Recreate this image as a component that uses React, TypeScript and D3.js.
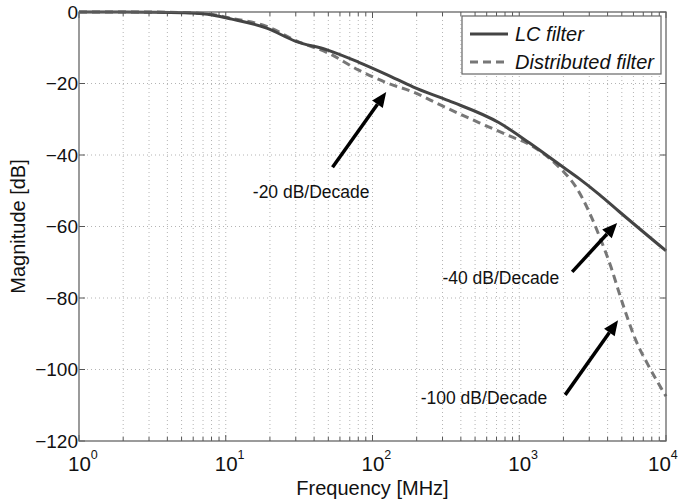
import React from 'react';
import * as d3 from 'd3';

// LC filter (solid) - frequency [MHz] / magnitude [dB]
const lcFreq = [1, 2, 3, 5, 7, 11, 19, 30, 49, 80, 125, 190, 330, 730, 1170, 1870, 2560, 3500, 4790, 10000];
const lcMag = [0, 0, -0.05, -0.2, -0.5, -2.0, -4.5, -8.2, -10.6, -14, -17.5, -21, -24.8, -31, -36.6, -42.6, -46.6, -51, -55.8, -66.8];

// Distributed filter (dashed)
const distFreq = [1, 3, 7, 11, 19, 30, 50, 80, 125, 190, 290, 535, 900, 1120, 1870, 2020, 2440, 3000, 3500, 4230, 4790, 5350, 6250, 7500, 10000];
const distMag = [0, 0, -0.4, -1.8, -4, -8, -11.5, -16.2, -19.8, -22.4, -26, -31, -35, -36.6, -43.4, -44.8, -49, -56, -62.5, -71.5, -78.5, -84.5, -92, -98.5, -107.5];

const yTicks = [0, -20, -40, -60, -80, -100, -120];
const xMajor = [1, 10, 100, 1000, 10000];
const xExponents = ['0', '1', '2', '3', '4'];

// annotation arrows in data coordinates [freq, dB]
const annotations = [
  { text: '-20 dB/Decade', tail: [53.4, -43.4], tip: [124, -22.4], label: [95.5, -50.3] },
  { text: '-40 dB/Decade', tail: [2295, -72.7], tip: [4645, -59], label: [1871, -74.4] },
  { text: '-100 dB/Decade', tail: [2056, -107.1], tip: [4713, -86.2], label: [1551, -108] },
];

const W = 679;
const H = 502;
const margin = { top: 12, right: 13, bottom: 61, left: 79 };
const FONT = '"Liberation Sans", Arial, Helvetica, sans-serif';

const App = () => {
  const x = d3.scaleLog().domain([1, 10000]).range([margin.left, W - margin.right]);
  const y = d3.scaleLinear().domain([-120, 0]).range([H - margin.bottom, margin.top]);
  const x0 = margin.left;
  const x1 = W - margin.right;
  const y0 = H - margin.bottom;
  const y1 = margin.top;

  const minorTicks: number[] = [];
  for (let d = 0; d < 4; d++) {
    for (let k = 2; k <= 9; k++) minorTicks.push(k * Math.pow(10, d));
  }

  const line = d3
    .line<[number, number]>()
    .x((d) => x(d[0]))
    .y((d) => y(d[1]))
    .curve(d3.curveMonotoneX);

  const lcPath = line(lcFreq.map((f, i) => [f, lcMag[i]]));
  const distPath = line(distFreq.map((f, i) => [f, distMag[i]]));

  const grid = { stroke: '#b4b4b4', strokeWidth: 1, strokeDasharray: '1,3' };

  return (
    <svg width={W} height={H} style={{ position: 'absolute', left: 0, top: 0, background: '#fff' }}>
      <rect x={0} y={0} width={W} height={H} fill="#fff" />

      {/* grid */}
      {[...xMajor.slice(1, -1), ...minorTicks].map((t) => (
        <line key={'gx' + t} x1={x(t)} x2={x(t)} y1={y1} y2={y0} {...grid} />
      ))}
      {yTicks.slice(1, -1).map((t) => (
        <line key={'gy' + t} x1={x0} x2={x1} y1={y(t)} y2={y(t)} {...grid} />
      ))}

      {/* ticks (inward, all four sides) */}
      {xMajor.map((t) => (
        <g key={'tx' + t} stroke="#555" strokeWidth={1}>
          <line x1={x(t)} x2={x(t)} y1={y0} y2={y0 - 6} />
          <line x1={x(t)} x2={x(t)} y1={y1} y2={y1 + 6} />
        </g>
      ))}
      {minorTicks.map((t) => (
        <g key={'tm' + t} stroke="#555" strokeWidth={1}>
          <line x1={x(t)} x2={x(t)} y1={y0} y2={y0 - 4} />
          <line x1={x(t)} x2={x(t)} y1={y1} y2={y1 + 4} />
        </g>
      ))}
      {yTicks.map((t) => (
        <g key={'ty' + t} stroke="#555" strokeWidth={1}>
          <line x1={x0} x2={x0 + 6} y1={y(t)} y2={y(t)} />
          <line x1={x1} x2={x1 - 6} y1={y(t)} y2={y(t)} />
        </g>
      ))}

      {/* curves */}
      <path d={distPath || ''} fill="none" stroke="#777" strokeWidth={3} strokeDasharray="8,5" />
      <path d={lcPath || ''} fill="none" stroke="#444" strokeWidth={3} />

      {/* frame */}
      <rect x={x0} y={y1} width={x1 - x0} height={y0 - y1} fill="none" stroke="#666" strokeWidth={1.3} />

      {/* y tick labels */}
      {yTicks.map((t) => (
        <text key={'ly' + t} x={x0 - 1} y={y(t)} dy="0.36em" textAnchor="end" fontFamily={FONT} fontSize={19} fill="#111">
          {t === 0 ? '0' : '\u2212' + Math.abs(t)}
        </text>
      ))}

      {/* x tick labels */}
      {xMajor.map((t, i) => (
        <text
          key={'lx' + t}
          x={Math.min(x(t) - 11, W - 31)}
          y={471}
          fontFamily={FONT}
          fontSize={20.5}
          fill="#111"
        >
          10
          <tspan dy={-12} fontSize={12.5}>{xExponents[i]}</tspan>
        </text>
      ))}

      {/* axis titles */}
      <text x={(x0 + x1) / 2} y={495} textAnchor="middle" fontFamily={FONT} fontSize={20} fill="#111">
        Frequency [MHz]
      </text>
      <text
        transform={`translate(25,${(y0 + y1) / 2}) rotate(-90)`}
        textAnchor="middle"
        fontFamily={FONT}
        fontSize={20}
        fill="#111"
      >
        Magnitude [dB]
      </text>

      {/* annotations */}
      {annotations.map((a) => {
        const tx = x(a.tail[0]);
        const ty = y(a.tail[1]);
        const hx = x(a.tip[0]);
        const hy = y(a.tip[1]);
        const ang = Math.atan2(hy - ty, hx - tx);
        const len = 15;
        const hw = 6.5;
        const bx = hx - len * Math.cos(ang);
        const by = hy - len * Math.sin(ang);
        const px = -Math.sin(ang) * hw;
        const py = Math.cos(ang) * hw;
        return (
          <g key={a.text}>
            <line x1={tx} y1={ty} x2={bx} y2={by} stroke="#000" strokeWidth={3.5} />
            <polygon points={`${hx},${hy} ${bx + px},${by + py} ${bx - px},${by - py}`} fill="#000" />
            <text x={x(a.label[0])} y={y(a.label[1])} dy="0.36em" textAnchor="end" fontFamily={FONT} fontSize={17.5} fill="#111">
              {a.text}
            </text>
          </g>
        );
      })}

      {/* legend */}
      <g>
        <rect x={462} y={16} width={199} height={58} fill="#fff" stroke="#666" strokeWidth={1.2} />
        <line x1={470} x2={508} y1={34} y2={34} stroke="#444" strokeWidth={3} />
        <text x={515} y={34} dy="0.36em" fontFamily={FONT} fontStyle="italic" fontSize={20} fill="#111">
          LC filter
        </text>
        <line x1={470} x2={508} y1={62} y2={62} stroke="#777" strokeWidth={3} strokeDasharray="8,5" />
        <text x={515} y={62} dy="0.36em" fontFamily={FONT} fontStyle="italic" fontSize={20} fill="#111">
          Distributed filter
        </text>
      </g>
    </svg>
  );
};

export default App;
